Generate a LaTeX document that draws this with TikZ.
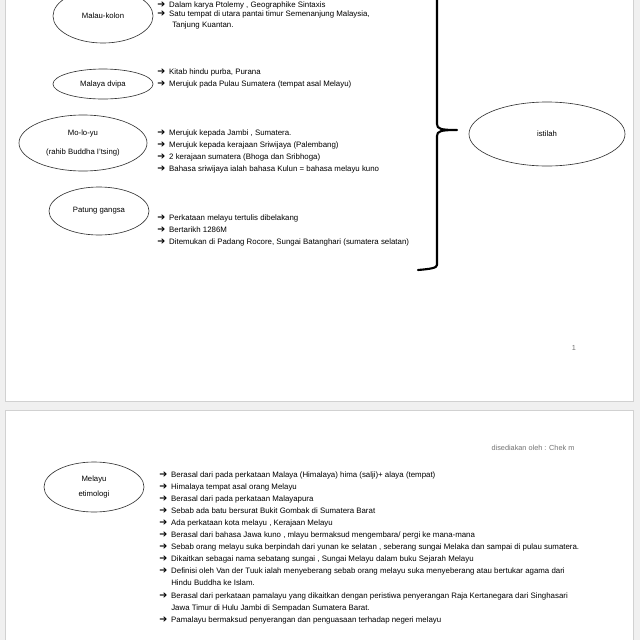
\documentclass[tikz,border=0pt]{standalone}
\usepackage{fontspec}
\setmainfont{Liberation Sans}
\newfontfamily\arrfont{DejaVu Sans}
\usetikzlibrary{shapes.geometric}
\newcommand{\arr}{\makebox[8.5pt][l]{\arrfont\fontsize{6.8}{6.5}\selectfont\char"2794}}
\tikzset{
  halaman/.style={draw=black!18,fill=white,line width=.6pt},
  konsep/.style={draw=black!80,line width=.45pt,ellipse,inner sep=0pt,align=center,
    font=\fontsize{5.5}{7}\selectfont},
  butir/.style={anchor=west,inner sep=0pt,font=\fontsize{5.6}{6.5}\selectfont},
  catat/.style={inner sep=0pt,text=black!55,font=\fontsize{5.2}{6}\selectfont},
}
\begin{document}
\begin{tikzpicture}[x=0.025cm,y=-0.025cm]
\useasboundingbox(0,0)rectangle(640,640);
\clip(0,0)rectangle(640,640);
\fill[black!6](0,0)rectangle(640,640);
\draw[halaman](5,-5)rectangle(633,401);
\draw[halaman](5,410)rectangle(633,650);

% halaman 1
\node[konsep,minimum width=2.5cm,minimum height=1.35cm](kolon)at(103,16){Malau-kolon};
\node[konsep,minimum width=2.5cm,minimum height=.75cm](dvipa)at(103,84){Malaya dvipa};
\node[konsep,minimum width=3.2cm,minimum height=1.4cm](moloyu)at(83,143){Mo-lo-yu\\[7pt](rahib Buddha I'tsing)};
\node[konsep,minimum width=2.5cm,minimum height=1.2cm](patung)at(99,211){Patung gangsa};
\node[konsep,minimum width=3.9cm,minimum height=1.6cm](istilah)at(547,134){istilah};

\foreach \y/\t [count=\i] in {5/{Dalam karya Ptolemy , Geographike Sintaxis},
  14/{Satu tempat  di utara pantai timur Semenanjung Malaysia,}}
  \node[butir](k\i)at(157,\y){\arr\t};
\node[butir](k3)at(172,25){Tanjung Kuantan.};

\foreach \y/\t [count=\i] in {72/{Kitab hindu purba, Purana},
  84/{Merujuk pada Pulau Sumatera (tempat asal Melayu)}}
  \node[butir](d\i)at(157,\y){\arr\t};

\foreach \y/\t [count=\i] in {133/{Merujuk kepada Jambi , Sumatera.},
  145/{Merujuk kepada kerajaan Sriwijaya (Palembang)},
  157/{2 kerajaan sumatera (Bhoga dan Sribhoga)},
  169/{Bahasa sriwijaya ialah bahasa Kulun = bahasa melayu kuno}}
  \node[butir](m\i)at(157,\y){\arr\t};

\foreach \y/\t [count=\i] in {218/{Perkataan melayu tertulis dibelakang},
  230/{Bertarikh 1286M},
  242/{Ditemukan di Padang Rocore, Sungai Batanghari  (sumatera selatan)}}
  \node[butir](p\i)at(157,\y){\arr\t};

% kurungan
\draw[line width=1.5pt,line cap=round,line join=round]
  (418,-12)--(437,-12)--(437,124) .. controls (437,129) and (441,130) .. (457,130)
  .. controls (441,130) and (437,131) .. (437,136)--(437,265)
  .. controls (437,268) and (430,269) .. (418,270);

\node[catat](hlm)at(574,348){1};

% halaman 2
\node[catat](oleh)at(533,448){disediakan oleh : Chek m};
\node[konsep,minimum width=2.5cm,minimum height=1.25cm](etimologi)at(94,487){Melayu\\[3pt]etimologi};

\foreach \y/\t [count=\i] in {475/{Berasal dari pada perkataan Malaya (Himalaya) hima (salji)+ alaya (tempat)},
  487/{Himalaya tempat asal orang Melayu},
  499/{Berasal dari pada perkataan Malayapura},
  511/{Sebab ada batu bersurat Bukit Gombak di Sumatera Barat},
  523/{Ada perkataan kota melayu , Kerajaan Melayu},
  535/{Berasal dari  bahasa Jawa kuno , mlayu  bermaksud mengembara/ pergi ke mana-mana},
  547/{Sebab orang melayu suka berpindah dari  yunan ke selatan , seberang sungai  Melaka dan sampai di  pulau sumatera.},
  559/{Dikaitkan sebagai nama sebatang sungai  , Sungai Melayu dalam buku Sejarah Melayu},
  571/{Definisi oleh Van der Tuuk ialah menyeberang sebab orang melayu suka menyeberang  atau bertukar  agama dari},
  596/{Berasal dari  perkataan pamalayu yang dikaitkan  dengan peristiwa penyerangan Raja Kertanegara dari  Singhasari},
  620/{Pamalayu bermaksud penyerangan dan penguasaan terhadap negeri melayu}}
  \node[butir](e\i)at(159,\y){\arr\t};
\node[butir](e12)at(171,583){Hindu Buddha ke Islam.};
\node[butir](e13)at(171,608){Jawa Timur di Hulu Jambi  di  Sempadan Sumatera Barat.};
\end{tikzpicture}
\end{document}
